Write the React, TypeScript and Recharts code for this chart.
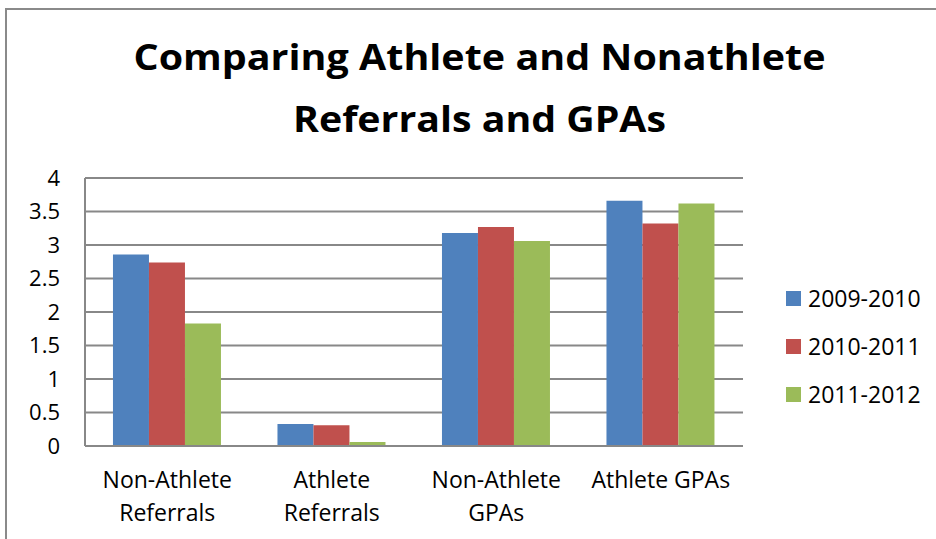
import React from 'react';
import { BarChart, Bar, XAxis, YAxis, CartesianGrid, Legend } from 'recharts';

const categories = ['Non-Athlete Referrals', 'Athlete Referrals', 'Non-Athlete GPAs', 'Athlete GPAs'];
const categoryLines: string[][] = [
  ['Non-Athlete', 'Referrals'],
  ['Athlete', 'Referrals'],
  ['Non-Athlete', 'GPAs'],
  ['Athlete GPAs'],
];
const s2009 = [2.86, 0.33, 3.18, 3.66];
const s2010 = [2.74, 0.31, 3.27, 3.32];
const s2011 = [1.83, 0.06, 3.06, 3.62];
const seriesNames = ['2009-2010', '2010-2011', '2011-2012'];
const seriesColors = ['#4F81BD', '#C0504D', '#9BBB59'];
const yTicks = [0, 0.5, 1, 1.5, 2, 2.5, 3, 3.5, 4];
const titleLines = ['Comparing Athlete and Nonathlete', 'Referrals and GPAs'];

const data = categories.map((c, i) => ({
  name: c,
  [seriesNames[0]]: s2009[i],
  [seriesNames[1]]: s2010[i],
  [seriesNames[2]]: s2011[i],
}));

const FONT = '"Open Sans", sans-serif';

const CategoryTick = (props: any) => {
  const { x, y, index } = props;
  const lines = categoryLines[index] || [];
  return (
    <g>
      {lines.map((l, i) => (
        <text key={i} x={x} y={y + 42 + i * 33} textAnchor="middle" fontFamily={FONT} fontSize={23} fill="#000">
          {l}
        </text>
      ))}
    </g>
  );
};

const LegendContent = () => (
  <div style={{ fontFamily: FONT, position: 'relative', width: 0, height: 0, overflow: 'visible' }}>
    {seriesNames.map((n, i) => (
      <div key={n} style={{ position: 'absolute', left: 0, top: i * 48, width: 150, height: 48 }}>
        <div style={{ position: 'absolute', left: 0, top: 0, width: 15, height: 15, background: seriesColors[i] }} />
        <div style={{ position: 'absolute', left: 22, top: -9, fontSize: 23, lineHeight: '32px', color: '#000', whiteSpace: 'nowrap' }}>{n}</div>
      </div>
    ))}
  </div>
);

export default function App() {
  return (
    <div style={{ position: 'absolute', left: 0, top: 0, width: 936, height: 539, overflow: 'hidden', background: '#fff' }}>
      <div style={{ position: 'absolute', left: 5, top: 8, width: 1000, height: 1000, border: '2px solid #8a8a8a' }} />
      <svg width={936} height={160} style={{ position: 'absolute', left: 0, top: 0 }}>
        <text x={479.5} y={70} textAnchor="middle" fontFamily={FONT} fontWeight={700} fontSize={35} textLength={692} lengthAdjust="spacingAndGlyphs" fill="#000">
          {titleLines[0]}
        </text>
        <text x={479.5} y={132} textAnchor="middle" fontFamily={FONT} fontWeight={700} fontSize={35} textLength={373} lengthAdjust="spacingAndGlyphs" fill="#000">
          {titleLines[1]}
        </text>
      </svg>
      <div style={{ position: 'absolute', left: 0, top: 0 }}>
        <BarChart width={936} height={539} data={data} margin={{ top: 178, right: 193, bottom: 63, left: 0 }} barCategoryGap="17%" barGap={0}>
          <CartesianGrid vertical={false} stroke="#888" strokeWidth={2} />
          <XAxis dataKey="name" height={30} tick={<CategoryTick />} tickLine={false} axisLine={{ stroke: '#888', strokeWidth: 2 }} tickSize={0} tickMargin={0} interval={0} />
          <YAxis domain={[0, 4]} ticks={yTicks} width={85} tickLine={false} tickSize={0} tickMargin={25} axisLine={{ stroke: '#888', strokeWidth: 2 }} tick={{ fontFamily: FONT, fontSize: 22, fill: '#000' }} interval={0} />
          <Legend layout="vertical" verticalAlign="top" align="right" content={<LegendContent />} wrapperStyle={{ position: 'absolute', left: 786, top: 291, width: 0, height: 0, overflow: 'visible' }} />
          {seriesNames.map((n, i) => (
            <Bar key={n} dataKey={n} fill={seriesColors[i]} isAnimationActive={false} />
          ))}
        </BarChart>
      </div>
    </div>
  );
}
